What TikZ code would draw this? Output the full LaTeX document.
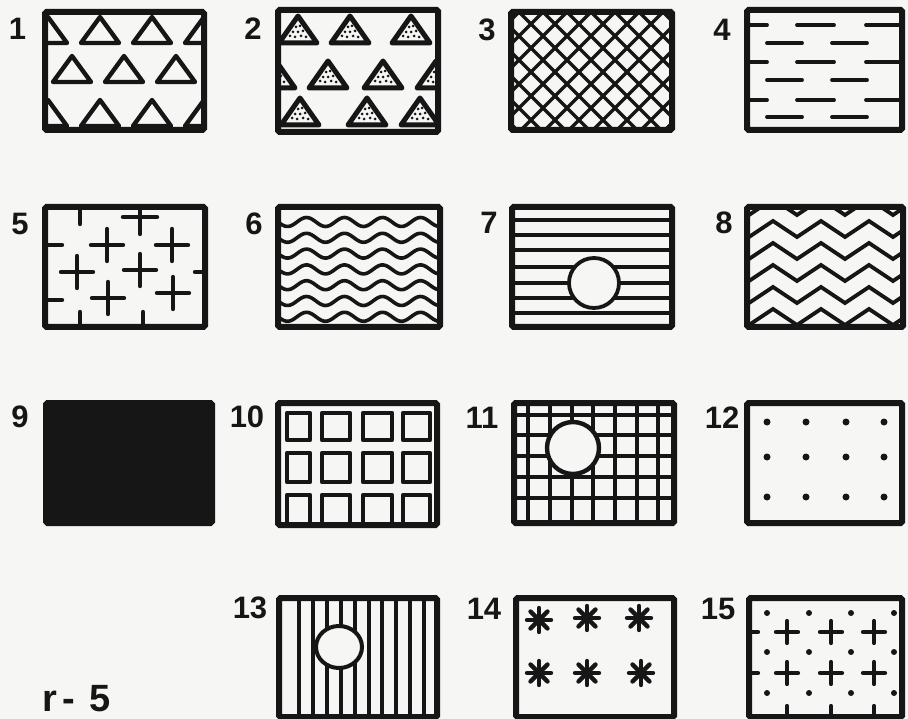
\documentclass[tikz,border=0pt]{standalone}
\usepackage{fontspec}
\setmainfont{Liberation Sans}
\definecolor{paper}{RGB}{246,246,244}
\definecolor{ink}{RGB}{22,22,22}
\newcommand{\mypl}[4]{\draw[hatch,line width=#4] ({#1-#3},#2)--({#1+#3},#2) (#1,{#2-#3})--(#1,{#2+#3});}
\newcommand{\myast}[2]{\foreach \a in {0,45,...,315} \draw[hatch,line width=4.4pt] (#1,#2) -- ++(\a:12);}
\begin{document}
\begin{tikzpicture}[x=1pt,y=-1pt,
  frame/.style={draw=ink,line width=6pt,rounded corners=1.5pt},
  hatch/.style={draw=ink,line width=3.8pt,line cap=round,line join=round},
  num/.style={font=\bfseries\fontsize{31}{31}\selectfont,text=ink,inner sep=0pt,anchor=center}]
\fill[paper] (0,0) rectangle (908,719);
\useasboundingbox (0,0) rectangle (908,719);

% ---------- Box 1: outline triangles
\begin{scope}[shift={(45,12)}]
  \begin{scope}
    \clip (0,0) rectangle (159,118);
    \foreach \cx/\by in {3/31,55/31,107/31,159/31,27/70,79/70,131/70,3/114,55/114,107/114,159/114}
      \draw[hatch,line width=4.4pt] ({\cx-19},\by) -- (\cx,{\by-26}) -- ({\cx+19},\by) -- cycle;
  \end{scope}
  \draw[frame] (0,0) rectangle (159,118);
\end{scope}

% ---------- Box 2: stippled triangles
\begin{scope}[shift={(278,10)}]
  \begin{scope}
    \clip (0,0) rectangle (160,122);
    \foreach \cx/\by in {20/33,72/33,133/33,-2/78,50/78,105/78,158/78,22/115,89/115,142/115} {
      \foreach \dx/\dy in {-8/-7,-3/-6,3/-7,8/-6,-5/-11,0/-11,5/-12,-2/-16,2/-17}
        \fill[ink] ({\cx+\dx},{\by+\dy}) circle (1.5pt);
      \draw[hatch,line width=5pt] ({\cx-19},\by) -- (\cx,{\by-27}) -- ({\cx+19},\by) -- cycle;
    }
  \end{scope}
  \draw[frame] (0,0) rectangle (160,122);
\end{scope}

% ---------- Box 3: cross-hatching
\begin{scope}[shift={(511,12)}]
  \begin{scope}
    \clip (0,0) rectangle (161,118);
    \foreach \k in {-6,...,12} {
      \draw[hatch,line width=3.4pt] ({8+24*\k},0) -- ({8+24*\k+130},130);
      \draw[hatch,line width=3.4pt] ({8+24*\k},0) -- ({8+24*\k-130},130);
    }
  \end{scope}
  \draw[frame] (0,0) rectangle (161,118);
\end{scope}

% ---------- Box 4: dashes
\begin{scope}[shift={(747,10)}]
  \begin{scope}
    \clip (0,0) rectangle (155,120);
    \foreach \y in {15,52,90} {
      \draw[hatch] (0,\y)--(20,\y);
      \draw[hatch] (50,\y)--(87,\y);
      \draw[hatch] (119,\y)--(160,\y);
    }
    \foreach \y in {33,70,107} {
      \draw[hatch] (20,\y)--(55,\y);
      \draw[hatch] (85,\y)--(120,\y);
    }
  \end{scope}
  \draw[frame] (0,0) rectangle (155,120);
\end{scope}

% ---------- Box 5: crosses
\begin{scope}[shift={(45,207)}]
  \begin{scope}
    \clip (0,0) rectangle (160,120);
    \draw[hatch,line width=4.4pt] (35,0)--(35,17);
    \mypl{95}{10}{17}{4.4pt}
    \draw[hatch,line width=4.4pt] (0,38)--(17,38);
    \mypl{62}{38}{16}{4.4pt}
    \mypl{127}{38}{16}{4.4pt}
    \mypl{32}{65}{16}{4.4pt}
    \mypl{95}{63}{16}{4.4pt}
    \draw[hatch,line width=4.4pt] (150,65)--(160,65);
    \draw[hatch,line width=4.4pt] (0,93)--(17,93);
    \mypl{63}{91}{16}{4.4pt}
    \mypl{128}{86}{16}{4.4pt}
    \draw[hatch,line width=4.4pt] (35,105)--(35,120);
    \draw[hatch,line width=4.4pt] (98,105)--(98,120);
  \end{scope}
  \draw[frame] (0,0) rectangle (160,120);
\end{scope}

% ---------- Box 6: waves
\begin{scope}[shift={(278,207)}]
  \begin{scope}
    \clip (0,0) rectangle (162,120);
    \foreach \k in {0,...,6}
      \draw[hatch,line width=3.6pt] plot[domain=-5:167,samples=90,smooth] (\x,{15+15.8*\k+4.5*sin(\x/38*360)});
  \end{scope}
  \draw[frame] (0,0) rectangle (162,120);
\end{scope}

% ---------- Box 7: horizontal lines with circle
\begin{scope}[shift={(512,207)}]
  \begin{scope}
    \clip (0,0) rectangle (160,120);
    \foreach \y in {13,28,43,60,76,91,106} \draw[hatch,line width=3.6pt] (0,\y) -- (160,\y);
    \filldraw[fill=paper,draw=ink,line width=3.8pt] (82,76) circle (25pt);
  \end{scope}
  \draw[frame] (0,0) rectangle (160,120);
\end{scope}

% ---------- Box 8: zigzags
\begin{scope}[shift={(747,207)}]
  \begin{scope}
    \clip (0,0) rectangle (156,120);
    \foreach \T in {8,30,52,74,96,118,140}
      \draw[hatch,line width=3.8pt,line join=miter] (-22,{\T-16}) \foreach \j in {1,...,9} { -- ({-22+24*\j},{\T-16*(1-mod(\j,2))}) };
  \end{scope}
  \draw[frame] (0,0) rectangle (156,120);
\end{scope}

% ---------- Box 9: solid
\begin{scope}[shift={(46,403)}]
  \fill[ink] (0,0) rectangle (166,120);
  \draw[frame] (0,0) rectangle (166,120);
\end{scope}

% ---------- Box 10: squares
\begin{scope}[shift={(278,403)}]
  \begin{scope}
    \clip (0,0) rectangle (159,122);
    \foreach \xa/\xb in {9/32,44/72,85/114,125/152}
      \foreach \ya/\yb in {10/37,50/79,92/128}
        \draw[hatch,line width=4.4pt] (\xa,\ya) rectangle (\xb,\yb);
  \end{scope}
  \draw[frame] (0,0) rectangle (159,122);
\end{scope}

% ---------- Box 11: grid with circle
\begin{scope}[shift={(514,403)}]
  \begin{scope}
    \clip (0,0) rectangle (160,120);
    \foreach \x in {14,36,58,79,101,123,144} \draw[hatch,line width=4.4pt] (\x,0)--(\x,120);
    \foreach \y in {12,32,53,74,95} \draw[hatch,line width=4.4pt] (0,\y)--(160,\y);
    \filldraw[fill=paper,draw=ink,line width=4.4pt] (59,45) circle (26pt);
  \end{scope}
  \draw[frame] (0,0) rectangle (160,120);
\end{scope}

% ---------- Box 12: dots
\begin{scope}[shift={(747,403)}]
  \foreach \x in {20,59,99,137}
    \foreach \y in {19,54,94}
      \fill[ink] (\x,\y) circle (3.5pt);
  \draw[frame] (0,0) rectangle (155,120);
\end{scope}

% ---------- Box 13: vertical lines with circle
\begin{scope}[shift={(279,598)}]
  \begin{scope}
    \clip (0,0) rectangle (158,119);
    \foreach \k in {0,...,9} \draw[hatch,line width=4pt] ({20+13.9*\k},0)--({20+13.9*\k},119);
    \filldraw[fill=paper,draw=ink,line width=4pt] (60,49) ellipse (23pt and 21pt);
  \end{scope}
  \draw[frame] (0,0) rectangle (158,119);
\end{scope}

% ---------- Box 14: asterisks
\begin{scope}[shift={(516,598)}]
  \myast{23}{22}
  \myast{71}{20}
  \myast{123}{20}
  \myast{23}{75}
  \myast{71}{75}
  \myast{125}{75}
  \draw[frame] (0,0) rectangle (158,119);
\end{scope}

% ---------- Box 15: dots and crosses
\begin{scope}[shift={(749,598)}]
  \begin{scope}
    \clip (0,0) rectangle (153,119);
    \foreach \x in {18,60,102,145}
      \foreach \y in {15,54,95}
        \fill[ink] (\x,\y) circle (3pt);
    \foreach \x in {38,82,125}
      \foreach \y in {34,75}
        {\mypl{\x}{\y}{11}{4.2pt}}
    \draw[hatch,line width=4.2pt] (0,34)--(9,34);
    \draw[hatch,line width=4.2pt] (0,75)--(9,75);
    \foreach \x in {38,82,125} \draw[hatch,line width=4.2pt] (\x,108)--(\x,119);
  \end{scope}
  \draw[frame] (0,0) rectangle (153,119);
\end{scope}

% ---------- labels
\node[num] (l1) at (17.5,28.5) {1};
\node[num] (l2) at (253,28.5) {2};
\node[num] (l3) at (487,30) {3};
\node[num] (l4) at (722,30) {4};
\node[num] (l5) at (20,224) {5};
\node[num] (l6) at (254,224) {6};
\node[num] (l7) at (489,223) {7};
\node[num] (l8) at (724,223) {8};
\node[num] (l9) at (20,417) {9};
\node[num] (l10) at (247,417) {10};
\node[num] (l11) at (482,418) {11};
\node[num] (l12) at (722,418) {12};
\node[num] (l13) at (250,608) {13};
\node[num] (l14) at (484,609) {14};
\node[num] (l15) at (718,609) {15};
\node[font=\bfseries\fontsize{38}{38}\selectfont,text=ink,inner sep=0pt,anchor=base west] (r5) at (42,711)
  {r\hspace{6pt}-\hspace{14pt}5};
\end{tikzpicture}
\end{document}
